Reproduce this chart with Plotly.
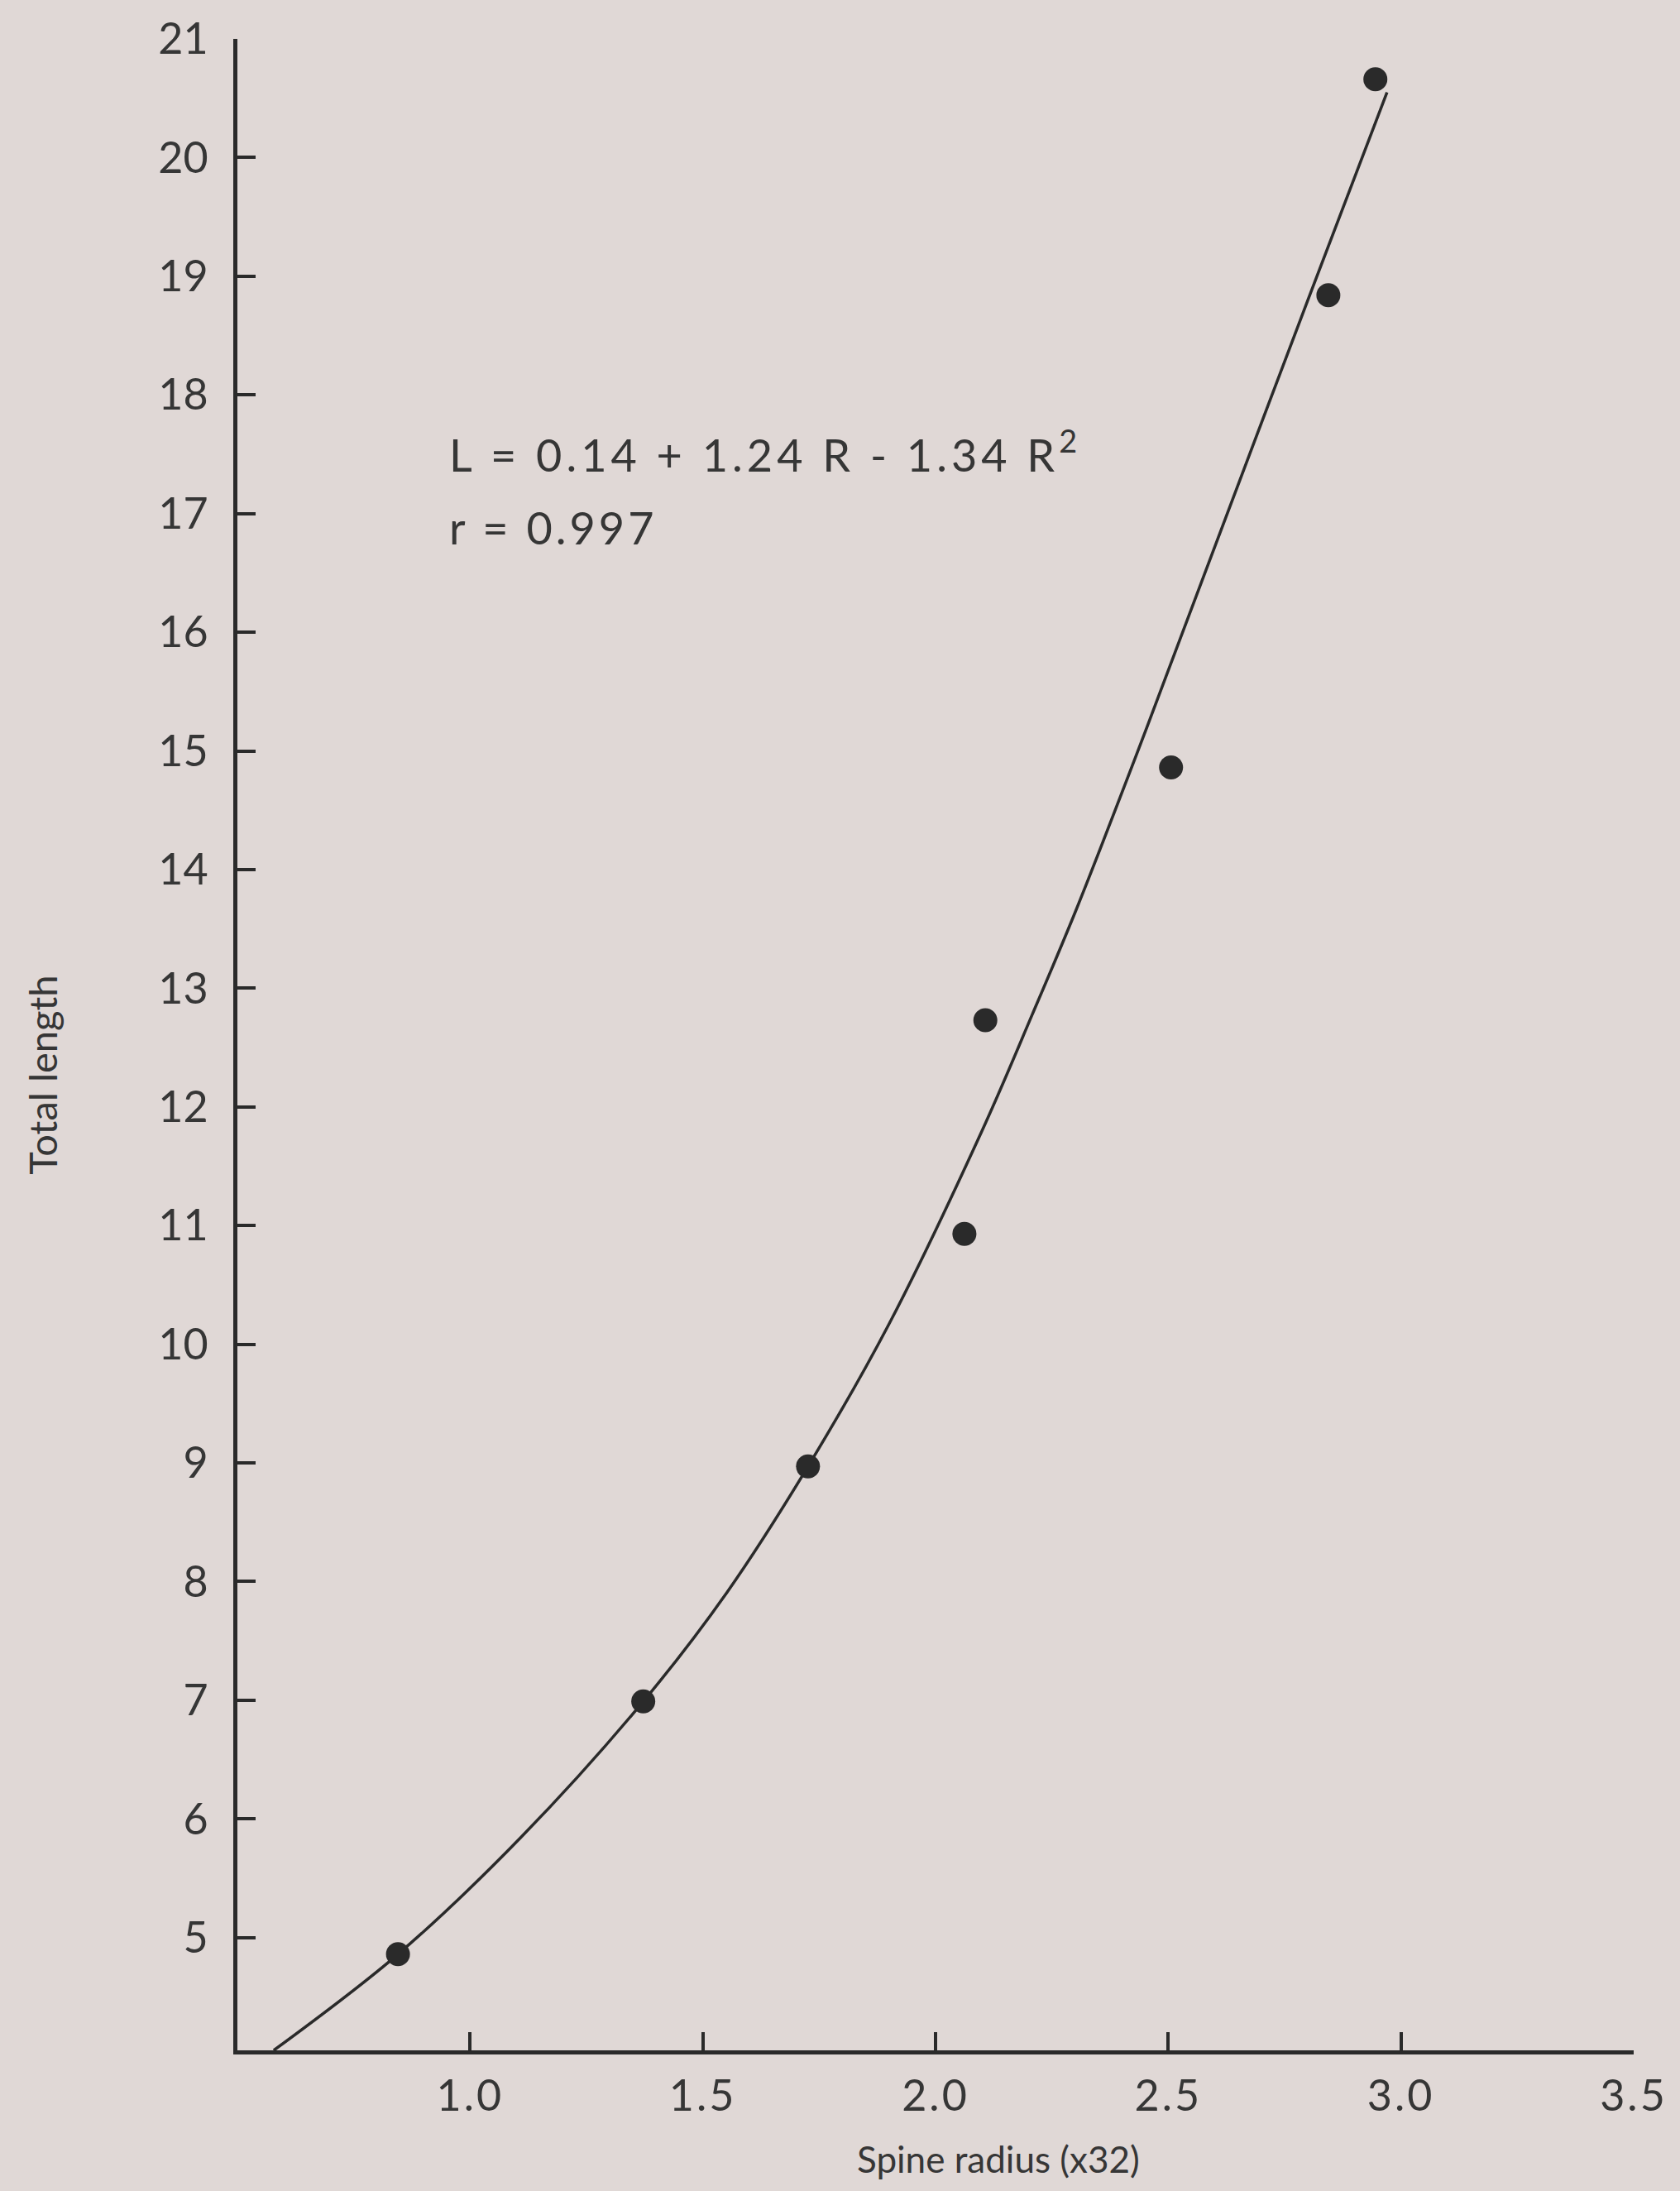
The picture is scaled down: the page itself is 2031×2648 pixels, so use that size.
import plotly.graph_objects as go

# Observed data points (spine radius x32, total length)
radius = [0.845, 1.372, 1.726, 2.062, 2.107, 2.506, 2.844, 2.945]
length = [4.86, 6.99, 8.97, 10.93, 12.73, 14.86, 18.84, 20.66]

# Fitted curve
curve_r = [0.578, 0.845, 1.108, 1.372, 1.552, 1.726, 1.900, 2.100, 2.208, 2.302, 2.430, 2.574, 2.800, 2.970]
curve_l = [4.05, 4.86, 5.84, 6.99, 7.91, 8.97, 10.17, 11.80, 12.78, 13.66, 14.95, 16.45, 18.80, 20.55]

x_ticks = [1.0, 1.5, 2.0, 2.5, 3.0, 3.5]
x_ticklabels = ["1.0", "1.5", "2.0", "2.5", "3.0", "3.5"]
y_ticks = list(range(5, 22))
y_ticklabels = [str(v) for v in y_ticks]

equation = "L = 0.14 + 1.24 R - 1.34 R<sup>2</sup>"
corr = "r = 0.997"
x_title = "Spine radius (x32)"
y_title = "Total length"

BG = "#e0d8d6"
INK = "#2a2a2a"
TXT = "#363636"
FONT = "Lato"

fig = go.Figure()
fig.add_trace(go.Scatter(x=curve_r, y=curve_l, mode="lines",
                         line=dict(color=INK, width=3.5, shape="spline", smoothing=1.0),
                         hoverinfo="skip", showlegend=False))
fig.add_trace(go.Scatter(x=radius, y=length, mode="markers",
                         marker=dict(color=INK, size=29, line=dict(width=0)),
                         showlegend=False, cliponaxis=False))

fig.update_layout(
    width=2031, height=2648, autosize=False,
    margin=dict(l=287, r=56, t=47, b=170),
    paper_bgcolor=BG, plot_bgcolor=BG,
    font=dict(family=FONT, color=TXT, size=50),
    xaxis=dict(range=[0.5, 3.5], showgrid=False, zeroline=False,
               showline=True, linecolor=INK, linewidth=5,
               ticks="inside", ticklen=22, tickwidth=4, tickcolor=INK,
               tickvals=x_ticks, ticktext=x_ticklabels,
               tickfont=dict(size=52, family=FONT, color=TXT),
               ticklabelstandoff=6),
    yaxis=dict(range=[4.05, 21], showgrid=False, zeroline=False,
               showline=True, linecolor=INK, linewidth=5,
               ticks="inside", ticklen=22, tickwidth=4, tickcolor=INK,
               tickvals=y_ticks, ticktext=y_ticklabels,
               tickfont=dict(size=52, family=FONT, color=TXT),
               ticklabelstandoff=20),
)

fig.add_annotation(x=0.952, y=17.52, xref="x", yref="y", text=equation,
                   showarrow=False, xanchor="left", yanchor="middle", align="left",
                   font=dict(size=54, family=FONT, color=TXT))
fig.add_annotation(x=0.952, y=16.88, xref="x", yref="y", text=corr,
                   showarrow=False, xanchor="left", yanchor="middle", align="left",
                   font=dict(size=54, family=FONT, color=TXT))
fig.add_annotation(x=-0.14, y=0.485, xref="paper", yref="paper", text=y_title,
                   showarrow=False, textangle=-90, xanchor="center", yanchor="middle",
                   font=dict(size=47, family=FONT, color=TXT))
fig.add_annotation(x=0.545, y=-0.054, xref="paper", yref="paper", text=x_title,
                   showarrow=False, xanchor="center", yanchor="middle",
                   font=dict(size=44, family=FONT, color=TXT))

post = """
document.querySelectorAll('text.annotation-text').forEach(function(e){
  var t = e.textContent;
  if (t.indexOf('L =') === 0) { e.style.letterSpacing = '5px'; }
  else if (t.indexOf('r =') === 0) { e.style.letterSpacing = '4px'; }
});
document.querySelectorAll('g.xtick text').forEach(function(e){ e.style.letterSpacing = '3px'; });
"""

fig.write_html("out.html", post_script=post)
